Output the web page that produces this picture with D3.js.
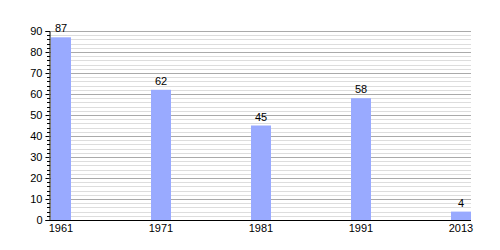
<!DOCTYPE html>
<html>
<head>
  <meta charset="utf-8">
  <script src="https://d3js.org/d3.v7.min.js"></script>
  <style>
    body { margin: 0; background: #fff; }
    text { font-family: "Liberation Sans", Arial, sans-serif; fill: #000; }
  </style>
</head>
<body>
<script>
  // chart data
  var years = ["1961", "1971", "1981", "1991", "2013"];
  var counts = [87, 62, 45, 58, 4];
  var yTicks = [0, 10, 20, 30, 40, 50, 60, 70, 80, 90];

  var width = 500, height = 250;
  var plotLeft = 50, plotRight = 471, plotTop = 31, plotBottom = 220;

  var svg = d3.select("body").append("svg")
      .attr("width", width)
      .attr("height", height);

  var x = d3.scalePoint().domain(years).range([plotLeft, 450]);
  var y = d3.scaleLinear().domain([0, 90]).range([plotBottom, plotTop]);
  var barW = 20;
  var minor = d3.range(2, 90, 2).filter(function (v) { return v % 10 !== 0; });

  // minor grid every 2
  svg.append("g").selectAll("line")
      .data(minor)
    .enter().append("line")
      .attr("x1", plotLeft).attr("x2", plotRight)
      .attr("y1", function (d) { return Math.round(y(d)) + 0.5; })
      .attr("y2", function (d) { return Math.round(y(d)) + 0.5; })
      .attr("stroke", "#dddddd");

  // major grid
  svg.append("g").selectAll("line")
      .data(yTicks.slice(1))
    .enter().append("line")
      .attr("x1", plotLeft).attr("x2", plotRight)
      .attr("y1", function (d) { return Math.round(y(d)) + 0.5; })
      .attr("y2", function (d) { return Math.round(y(d)) + 0.5; })
      .attr("stroke", "#aaaaaa");

  // bars
  svg.append("g").selectAll("rect")
      .data(years)
    .enter().append("rect")
      .attr("x", function (d) { return x(d) + 1; })
      .attr("width", barW)
      .attr("y", function (d, i) { return y(counts[i]); })
      .attr("height", function (d, i) { return plotBottom - y(counts[i]); })
      .attr("fill", "#99aaff");

  // value labels
  svg.append("g").selectAll("text")
      .data(years)
    .enter().append("text")
      .attr("x", function (d) { return x(d) + 1 + barW / 2; })
      .attr("y", function (d, i) { return y(counts[i]) - 5; })
      .attr("text-anchor", "middle")
      .style("font-size", "11px")
      .text(function (d, i) { return counts[i]; });

  // y axis
  var yAxis = svg.append("g")
      .attr("transform", "translate(" + (plotLeft - 0.5) + ",0)")
      .call(d3.axisLeft(y).tickValues(yTicks).tickSize(4).tickPadding(3));
  yAxis.select(".domain").attr("stroke", "#000");
  yAxis.selectAll("text").style("font-size", "11px").style("font-family", "Liberation Sans, Arial, sans-serif");

  // minor ticks on y axis
  svg.append("g").selectAll("line")
      .data(minor)
    .enter().append("line")
      .attr("x1", plotLeft - 3).attr("x2", plotLeft)
      .attr("y1", function (d) { return Math.round(y(d)) + 0.5; })
      .attr("y2", function (d) { return Math.round(y(d)) + 0.5; })
      .attr("stroke", "#000");

  // x axis line
  svg.append("line")
      .attr("x1", plotLeft - 0.5).attr("x2", plotRight)
      .attr("y1", plotBottom + 0.5).attr("y2", plotBottom + 0.5)
      .attr("stroke", "#000");

  // x labels
  svg.append("g").selectAll("text")
      .data(years)
    .enter().append("text")
      .attr("x", function (d) { return x(d) + 1 + barW / 2; })
      .attr("y", plotBottom + 12)
      .attr("text-anchor", "middle")
      .style("font-size", "11px")
      .text(function (d) { return d; });
</script>
</body>
</html>
